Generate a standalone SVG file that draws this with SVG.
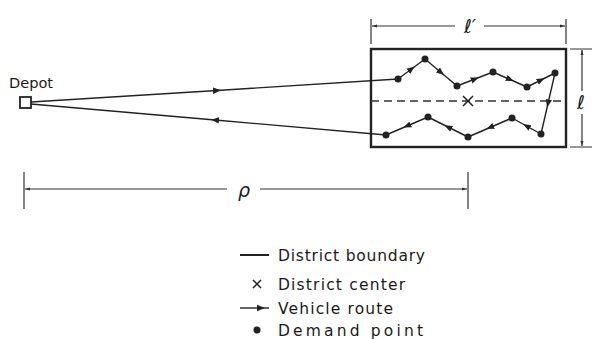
<svg xmlns="http://www.w3.org/2000/svg" width="592" height="339" viewBox="0 0 592 339">
<style>
.ln{stroke:#222;stroke-width:1.4;fill:none}
.dim{stroke:#333;stroke-width:1.2;fill:none}
.dot{fill:#222}
.t{font-family:"DejaVu Sans",sans-serif;font-size:15.5px;fill:#1a1a1a}
.lab{font-family:"DejaVu Sans",sans-serif;font-style:italic;font-size:19px;fill:#1a1a1a}
</style>
<defs>
<marker id="ah" viewBox="0 0 10 10" refX="5" refY="5" markerWidth="8" markerHeight="8" orient="auto" markerUnits="userSpaceOnUse">
<path d="M0,1 L10,5 L0,9 Z" fill="#222"/>
</marker>
<marker id="tip" viewBox="0 0 10 10" refX="10" refY="5" markerWidth="5" markerHeight="5" orient="auto" markerUnits="userSpaceOnUse">
<path d="M0,2 L10,5 L0,8 Z" fill="#333"/>
</marker>
</defs>
<g id="depot">
<rect x="20" y="97" width="11" height="11" fill="#fff" stroke="#222" stroke-width="1.8"/>
<text class="t" x="9" y="88" style="font-size:13.5px" textLength="44" lengthAdjust="spacingAndGlyphs">Depot</text>
</g>
<g id="district">
<rect x="371" y="49" width="195" height="98" fill="none" stroke="#222" stroke-width="2.4"/>
<line x1="371" y1="101" x2="566" y2="101" stroke="#333" stroke-width="1.4" stroke-dasharray="8,5"/>
<path d="M463,96 L473,106 M473,96 L463,106" stroke="#222" stroke-width="1.5"/>
</g>
<g id="connectors">
<path class="ln" d="M31,102 L217,90.5 L398,79" marker-mid="url(#ah)"/>
<path class="ln" d="M386,135 L215,120 L31,104" marker-mid="url(#ah)"/>
<path class="ln" d="M398,79 L411.5,69 L425,59" marker-mid="url(#ah)"/>
<path class="ln" d="M425,59 L441,72.5 L457,86" marker-mid="url(#ah)"/>
<path class="ln" d="M457,86 L475,79 L493,72" marker-mid="url(#ah)"/>
<path class="ln" d="M493,72 L510,79.5 L527,87" marker-mid="url(#ah)"/>
<path class="ln" d="M527,87 L541,80 L555,73" marker-mid="url(#ah)"/>
<path class="ln" d="M555,73 L548,103.5 L541,134" marker-mid="url(#ah)"/>
<path class="ln" d="M541,134 L526.5,126 L512,118" marker-mid="url(#ah)"/>
<path class="ln" d="M512,118 L490,127.5 L468,137" marker-mid="url(#ah)"/>
<path class="ln" d="M468,137 L448,127 L428,117" marker-mid="url(#ah)"/>
<path class="ln" d="M428,117 L407,126 L386,135" marker-mid="url(#ah)"/>
</g>
<g id="demand-points">
<circle class="dot" cx="398" cy="79" r="3.5"/>
<circle class="dot" cx="425" cy="59" r="3.5"/>
<circle class="dot" cx="457" cy="86" r="3.5"/>
<circle class="dot" cx="493" cy="72" r="3.5"/>
<circle class="dot" cx="527" cy="87" r="3.5"/>
<circle class="dot" cx="555" cy="73" r="3.5"/>
<circle class="dot" cx="541" cy="134" r="3.5"/>
<circle class="dot" cx="512" cy="118" r="3.5"/>
<circle class="dot" cx="468" cy="137" r="3.5"/>
<circle class="dot" cx="428" cy="117" r="3.5"/>
<circle class="dot" cx="386" cy="135" r="3.5"/>
</g>
<g id="dim-lprime">
<path class="dim" d="M371,19 V44 M566,19 V44"/>
<path class="dim" d="M455,26 H372" marker-end="url(#tip)"/>
<path class="dim" d="M484,26 H565" marker-end="url(#tip)"/>
<text class="lab" x="470" y="33" text-anchor="middle">ℓ′</text>
</g>
<g id="dim-l">
<path class="dim" d="M570,49 H592 M570,147 H592"/>
<path class="dim" d="M582,91 V50" marker-end="url(#tip)"/>
<path class="dim" d="M582,114 V146" marker-end="url(#tip)"/>
<text class="lab" x="581" y="109" text-anchor="middle">ℓ</text>
</g>
<g id="dim-rho">
<path class="dim" d="M24,172 V209 M468,172 V209"/>
<path class="dim" d="M227,189 H25" marker-end="url(#tip)"/>
<path class="dim" d="M260,189 H467" marker-end="url(#tip)"/>
<text class="lab" x="244" y="197" text-anchor="middle">ρ</text>
</g>
<g id="legend">
<line x1="240" y1="255" x2="269" y2="255" stroke="#222" stroke-width="2"/>
<text class="t" x="278" y="261" textLength="147" lengthAdjust="spacing">District boundary</text>
<path d="M253,280 L261,288 M261,280 L253,288" stroke="#222" stroke-width="1.5"/>
<text class="t" x="278" y="290" textLength="127" lengthAdjust="spacing">District center</text>
<path class="ln" d="M240,308 L261,308 L269,308" marker-mid="url(#ah)"/>
<text class="t" x="278" y="314" textLength="115" lengthAdjust="spacing">Vehicle route</text>
<circle class="dot" cx="257" cy="330" r="3.5"/>
<text class="t" x="278" y="336" textLength="145" lengthAdjust="spacing">Demand point</text>
</g>
</svg>
